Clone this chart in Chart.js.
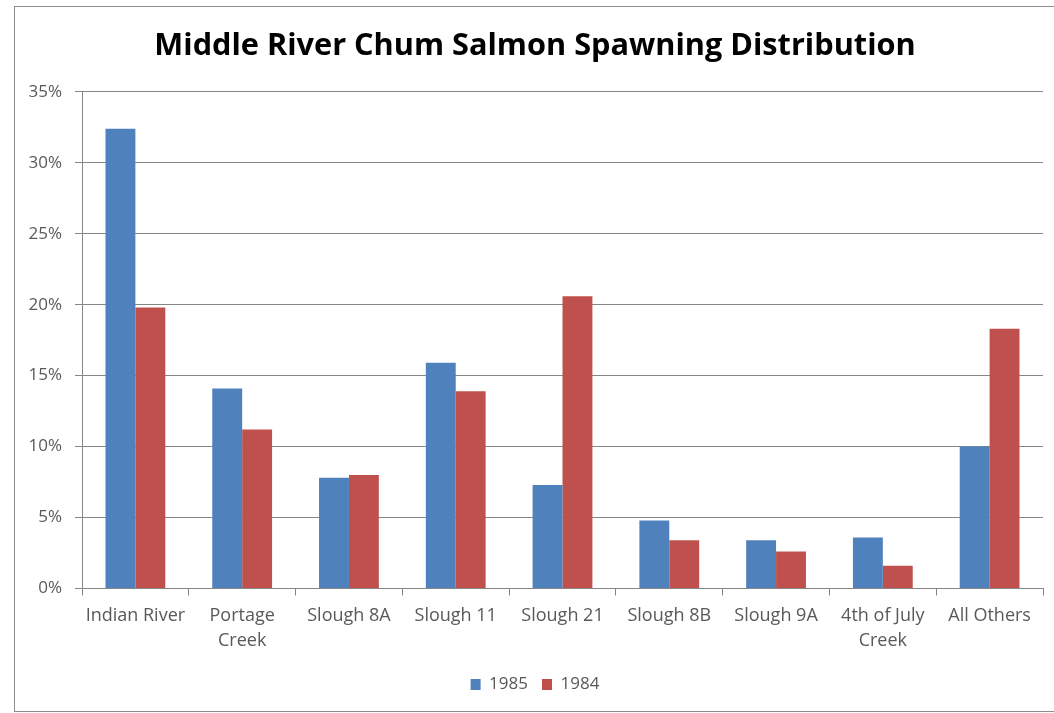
<!DOCTYPE html>
<html>
<head>
<meta charset="utf-8">
<script src="https://cdn.jsdelivr.net/npm/chart.js@4"></script>
<style>
  html, body { margin: 0; padding: 0; background: #fff; }
  #wrap { position: relative; width: 1054px; height: 713px; }
  #frame { position: absolute; left: 14px; top: 6px; width: 1040px; height: 704px;
           border-left: 1px solid #8c8c8c; border-top: 1px solid #8c8c8c; border-bottom: 1px solid #8c8c8c; }
  canvas { position: absolute; left: 0; top: 0; }
</style>
</head>
<body>
<div id="wrap">
  <div id="frame"></div>
  <canvas id="graph" width="1054" height="713"></canvas>
</div>
<script>
// valeurs (en %)
const sites = ["Indian River", ["Portage", "Creek"], "Slough 8A", "Slough 11", "Slough 21",
               "Slough 8B", "Slough 9A", ["4th of July", "Creek"], "All Others"];
const val1985 = [32.4, 14.1, 7.8, 15.9, 7.3, 4.8, 3.4, 3.6, 10.0];
const val1984 = [19.8, 11.2, 8.0, 13.9, 20.6, 3.4, 2.6, 1.6, 18.3];
const yTicks = [0, 5, 10, 15, 20, 25, 30, 35];

const gris = '#868686';
const texte = '#595959';

const c = document.getElementById("graph");

new Chart(c, {
  type: "bar",
  data: {
    labels: sites,
    datasets: [
      { label: "1985", data: val1985, backgroundColor: '#4F81BD' },
      { label: "1984", data: val1984, backgroundColor: '#C0504D' }
    ]
  },
  options: {
    responsive: false,
    animation: false,
    layout: { padding: { left: 27, right: 11, top: 0, bottom: 10 } },
    datasets: { bar: { categoryPercentage: 0.56, barPercentage: 1 } },
    plugins: {
      title: {
        display: true,
        text: "Middle River Chum Salmon Spawning Distribution",
        color: '#000',
        font: { family: "Open Sans", size: 30.7, weight: 'bold', lineHeight: 1.2 },
        padding: { top: 28, bottom: 27 }
      },
      legend: {
        position: 'bottom',
        labels: {
          boxWidth: 10, boxHeight: 11, padding: 14,
          color: texte,
          font: { family: "Open Sans", size: 17 }
        }
      },
      tooltip: { enabled: false }
    },
    scales: {
      x: {
        grid: { drawOnChartArea: false, drawTicks: true, tickLength: 7, color: gris },
        border: { color: gris },
        ticks: {
          color: texte, padding: 8, maxRotation: 0, autoSkip: false,
          font: { family: "Open Sans", size: 18, lineHeight: 1.39 }
        },
        afterFit: (s) => { s.height = 73.5; }
      },
      y: {
        min: 0, max: 35,
        afterBuildTicks: (s) => { s.ticks = yTicks.map(v => ({ value: v })); },
        grid: { color: gris, tickLength: 7 },
        border: { color: gris },
        ticks: {
          color: texte, padding: 13,
          font: { family: "Open Sans", size: 17 },
          callback: (v) => v + '%'
        },
        afterFit: (s) => { s.width = 55; }
      }
    }
  }
});
</script>
</body>
</html>
